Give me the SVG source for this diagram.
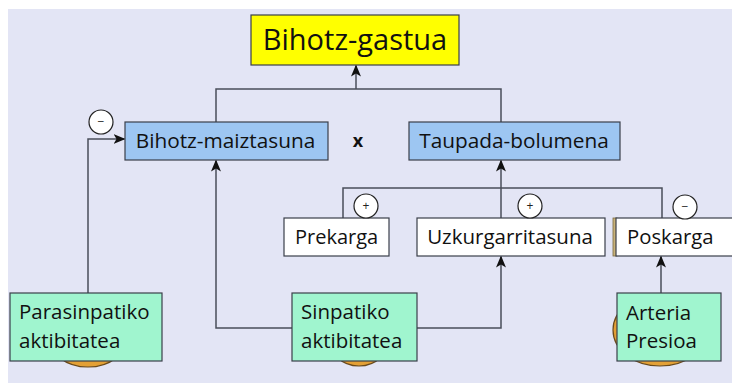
<svg xmlns="http://www.w3.org/2000/svg" width="732" height="383" viewBox="0 0 732 383">
<defs>
<marker id="ah" viewBox="0 0 12 10" refX="11" refY="5" markerWidth="12" markerHeight="10" markerUnits="userSpaceOnUse" orient="auto">
<path d="M0,0 L12,5 L0,10 L3,5 Z" fill="#111"/>
</marker>
<style>
.bx{stroke:#3a3f4a;stroke-width:1.2}
.t{font-family:"Open Sans","Noto Sans",sans-serif;fill:#111;font-variant-ligatures:none}
.ln{fill:none;stroke:#4a4e5a;stroke-width:1.5}
.ar{fill:none;stroke:#4a4e5a;stroke-width:1.5;marker-end:url(#ah)}
.cir{fill:#fff;stroke:#222;stroke-width:1.2}
.sg{font-family:"Open Sans",sans-serif;font-size:12px;fill:#222;text-anchor:middle}
.ell{fill:#E3A035;stroke:#6b4a1a;stroke-width:1.2}
</style>
</defs>
<rect x="0" y="0" width="732" height="383" fill="#fff"/>
<rect x="8" y="9" width="724" height="374" fill="#E3E5F5"/>

<g id="connectors">
<path class="ar" d="M356,89 V65.5"/>
<path class="ln" d="M216,122 V89 H501 V122"/>
<path class="ar" d="M88,293 V139 H124.5"/>
<path class="ar" d="M292,328 H216 V160.5"/>
<path class="ar" d="M417,328 H501 V256.5"/>
<path class="ln" d="M343,218 V188 H662 V218"/>
<path class="ar" d="M501,218 V160.5"/>
<path class="ar" d="M661,293 V256.5"/>
</g>

<g id="gastua">
<rect class="bx" x="251" y="15" width="208" height="50" fill="#FFFF00"/>
<text class="t" x="355" y="50" font-size="29" text-anchor="middle">Bihotz-gastua</text>
</g>

<g id="maiztasuna">
<rect class="bx" x="125" y="122" width="203" height="38" fill="#9DC6F2"/>
<text class="t" x="225.5" y="148" font-size="20.8" text-anchor="middle">Bihotz-maiztasuna</text>
</g>

<g id="x-sign">
<text class="t" x="358" y="147" font-size="18" font-weight="bold" text-anchor="middle">x</text>
</g>

<g id="bolumena">
<rect class="bx" x="409" y="122" width="211" height="38" fill="#9DC6F2"/>
<text class="t" x="514" y="148" font-size="20.8" text-anchor="middle">Taupada-bolumena</text>
</g>

<g id="prekarga">
<rect class="bx" x="284" y="218" width="105" height="38" fill="#fff"/>
<text class="t" x="295" y="244" font-size="20">Prekarga</text>
<circle class="cir" cx="366" cy="206" r="12"/>
<text class="sg" x="366" y="210">+</text>
</g>

<g id="uzkurgarritasuna">
<rect class="bx" x="417" y="218" width="188" height="38" fill="#fff"/>
<text class="t" x="510" y="244" font-size="20.5" text-anchor="middle">Uzkurgarritasuna</text>
<circle class="cir" cx="530" cy="206" r="12"/>
<text class="sg" x="530" y="210">+</text>
</g>

<g id="poskarga">
<rect x="613" y="218" width="4" height="38" fill="#C9B27A" stroke="#7a6a40" stroke-width="0.8"/>
<rect class="bx" x="616" y="218" width="130" height="38" fill="#fff"/>
<text class="t" x="627" y="244" font-size="20.3">Poskarga</text>
<circle class="cir" cx="685" cy="207" r="12"/>
<text class="sg" x="685" y="211">−</text>
</g>

<g id="minus-para">
<circle class="cir" cx="101" cy="122" r="12"/>
<text class="sg" x="101" y="126">−</text>
</g>

<g id="parasinpatiko">
<ellipse class="ell" cx="88" cy="336" rx="40" ry="31"/>
<rect class="bx" x="10" y="293" width="152" height="68" fill="#A0F5CF"/>
<text class="t" x="19" y="319" font-size="20.5">Parasinpatiko</text>
<text class="t" x="19" y="348" font-size="20.5">aktibitatea</text>
</g>

<g id="sinpatiko">
<ellipse class="ell" cx="359" cy="336" rx="31" ry="30"/>
<rect class="bx" x="292" y="293" width="125" height="68" fill="#A0F5CF"/>
<text class="t" x="301" y="319" font-size="20.5">Sinpatiko</text>
<text class="t" x="301" y="348" font-size="20.5">aktibitatea</text>
</g>

<g id="arteria">
<ellipse class="ell" cx="660" cy="330" rx="47" ry="36"/>
<rect class="bx" x="617" y="293" width="104" height="68" fill="#A0F5CF"/>
<text class="t" x="626" y="320" font-size="20.5">Arteria</text>
<text class="t" x="626" y="348" font-size="20.5">Presioa</text>
</g>
</svg>
